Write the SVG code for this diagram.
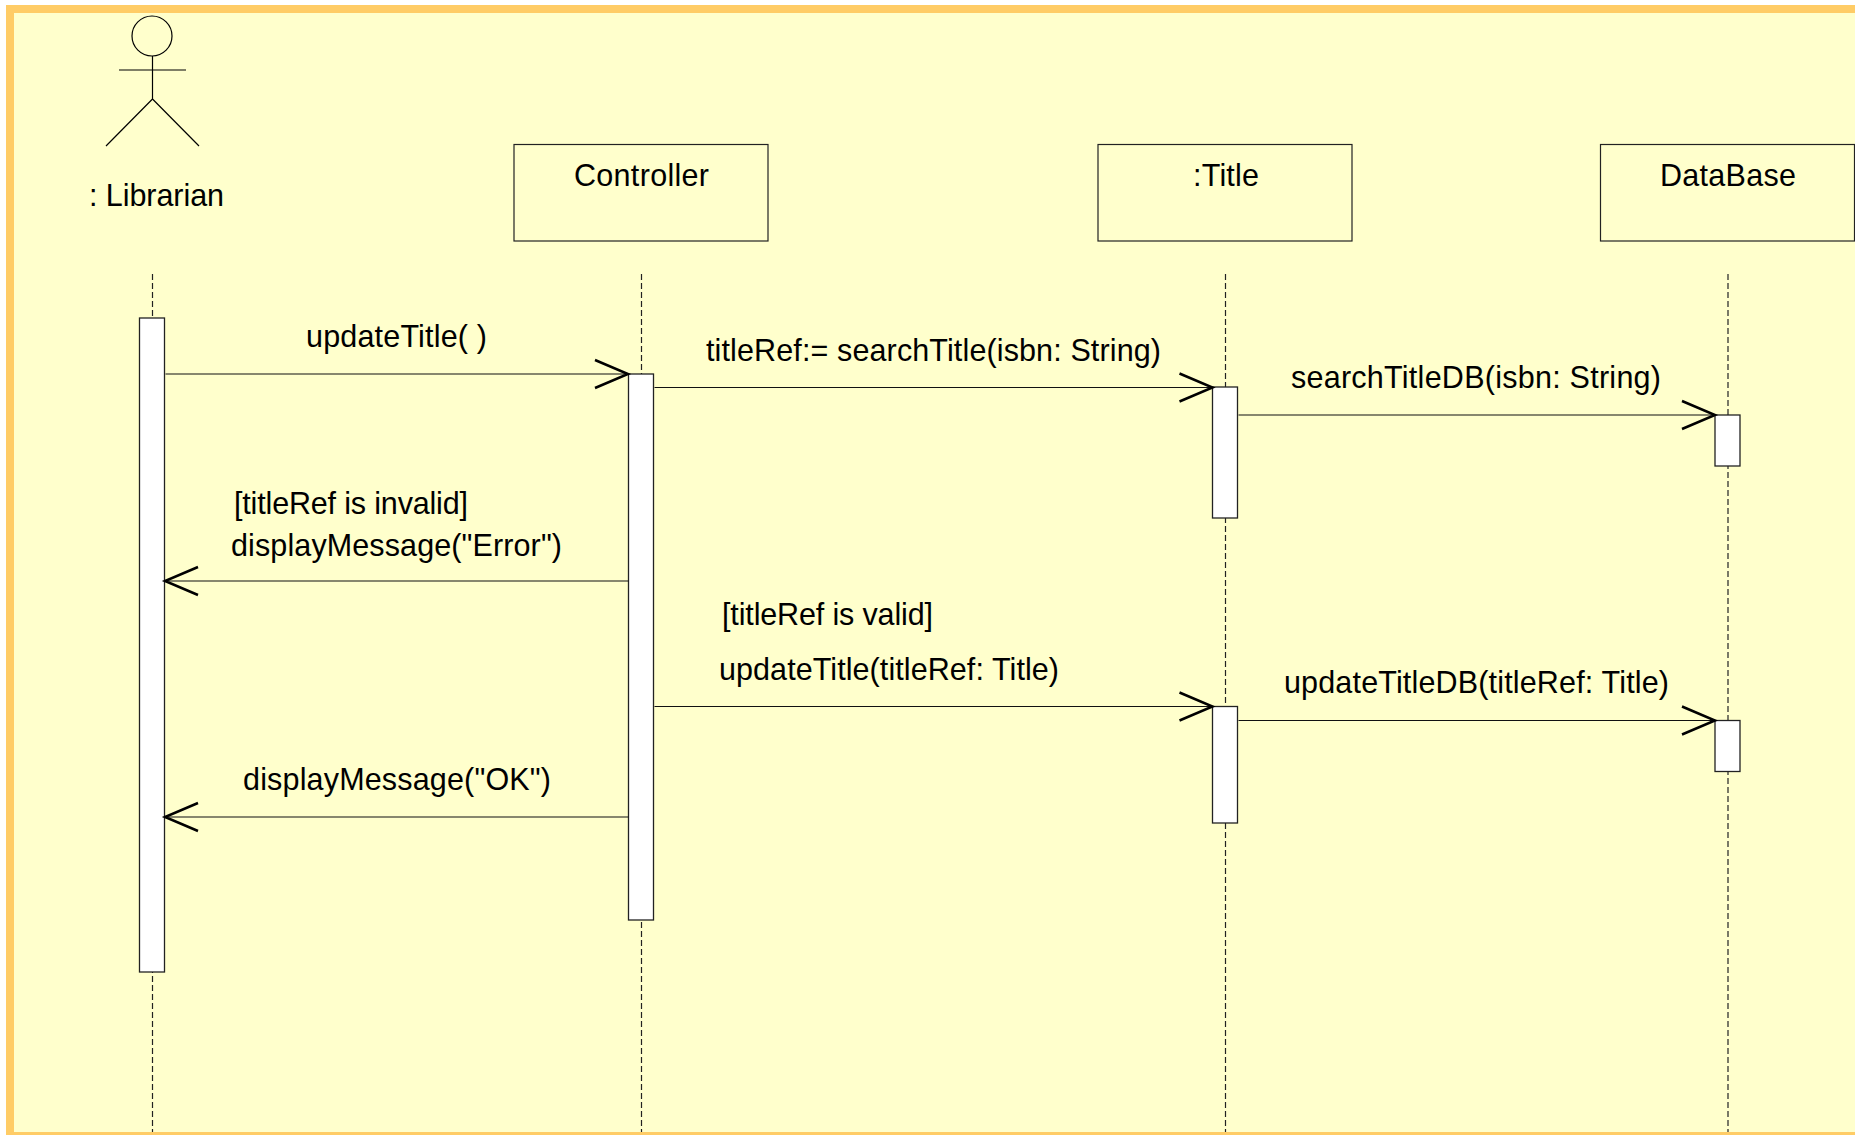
<svg xmlns="http://www.w3.org/2000/svg" width="1855" height="1135" viewBox="0 0 1855 1135">
<style>
.l{fill:none;stroke:#000;stroke-width:1.2}
.obj{fill:none;stroke:#222;stroke-width:1.2}
.act{fill:#fff;stroke:#222;stroke-width:1.3}
.life{stroke:#222;stroke-width:1.2;stroke-dasharray:6 3;fill:none}
.msg{stroke:#111;stroke-width:1.2;fill:none;marker-end:url(#open)}
text{font-family:"Liberation Sans",Arial,sans-serif;font-size:30.500px;fill:#000}
</style>
<defs>
<marker id="open" markerUnits="userSpaceOnUse" markerWidth="40" markerHeight="34" refX="35" refY="16" orient="auto">
<path d="M2 2L35 16L2 30" fill="none" stroke="#000" stroke-width="2.500"/>
</marker>
</defs>
<rect x="0" y="0" width="1855" height="1135" fill="#fff"/>
<rect x="6" y="5" width="1849" height="1130" fill="#ffcc66"/>
<rect x="14" y="13" width="1841" height="1119" fill="#ffffcc"/>
<g id="lifelines">
<line class="life" x1="152.500" y1="274" x2="152.500" y2="1132"/>
<line class="life" x1="641.500" y1="274" x2="641.500" y2="1132"/>
<line class="life" x1="1225.500" y1="274" x2="1225.500" y2="1132"/>
<line class="life" x1="1728" y1="274" x2="1728" y2="1132"/>
</g>
<g id="librarian">
<circle class="l" cx="152" cy="36" r="20"/>
<path class="l" d="M152.500 56V99M119 70H186M152.500 99L106 146M152.500 99L199 146"/>
<text x="89" y="205.500" textLength="135">: Librarian</text>
<rect class="act" x="139.500" y="318" width="25" height="654"/>
</g>
<g id="controller">
<rect class="obj" x="514" y="144.500" width="254" height="96.500"/>
<text x="574" y="186" textLength="135">Controller</text>
<rect class="act" x="628.500" y="374" width="25" height="546"/>
</g>
<g id="title">
<rect class="obj" x="1098" y="144.500" width="254" height="96.500"/>
<text x="1193" y="186" textLength="66">:Title</text>
<rect class="act" x="1212.500" y="387" width="25" height="131"/>
<rect class="act" x="1212.500" y="706.500" width="25" height="116.500"/>
</g>
<g id="database">
<rect class="obj" x="1600.500" y="144.500" width="254" height="96.500"/>
<text x="1660" y="186" textLength="136">DataBase</text>
<rect class="act" x="1715" y="415" width="25" height="51"/>
<rect class="act" x="1715" y="720.500" width="25" height="51"/>
</g>
<g id="connectors">
<line class="msg" x1="165.500" y1="374" x2="628" y2="374"/>
<line class="msg" x1="654.500" y1="387.500" x2="1212.500" y2="387.500"/>
<line class="msg" x1="1238.500" y1="415" x2="1715" y2="415"/>
<line class="msg" x1="628.500" y1="581" x2="165" y2="581"/>
<line class="msg" x1="654.500" y1="706.500" x2="1212.500" y2="706.500"/>
<line class="msg" x1="1238.500" y1="720.500" x2="1715" y2="720.500"/>
<line class="msg" x1="628.500" y1="817" x2="165" y2="817"/>
</g>
<g id="labels">
<text x="306" y="347" textLength="181">updateTitle( )</text>
<text x="706" y="361" textLength="455">titleRef:= searchTitle(isbn: String)</text>
<text x="1291" y="388" textLength="370">searchTitleDB(isbn: String)</text>
<text x="234" y="514" textLength="234">[titleRef is invalid]</text>
<text x="231" y="555.500" textLength="331">displayMessage("Error")</text>
<text x="722" y="625" textLength="211">[titleRef is valid]</text>
<text x="719" y="680" textLength="340">updateTitle(titleRef: Title)</text>
<text x="1284" y="693" textLength="385">updateTitleDB(titleRef: Title)</text>
<text x="243" y="789.500" textLength="308">displayMessage("OK")</text>
</g>
</svg>
